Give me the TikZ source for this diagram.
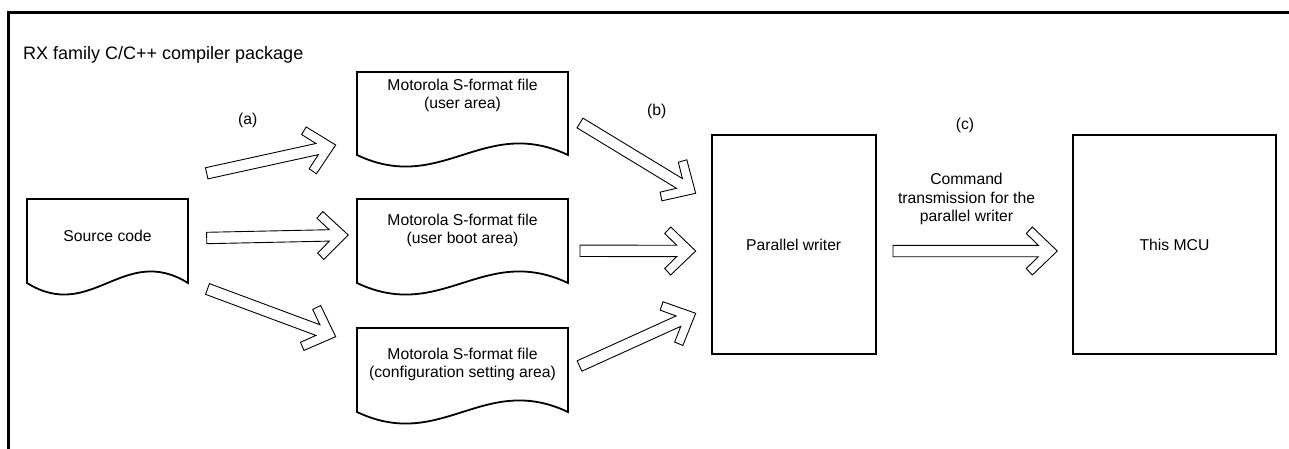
\documentclass[tikz,border=0pt]{standalone}
\usepackage{fontspec}
\setmainfont{Liberation Sans}
\usetikzlibrary{calc}
\tikzset{
  frameline/.style={line width=3pt, line join=miter},
  boxline/.style={line width=1.8pt, line join=miter},
  arrowline/.style={line width=0.9pt, line join=miter, fill=white},
  lbl/.style={font=\fontsize{15.7}{18.8}\selectfont, inner sep=0pt, align=center},
  titlelbl/.style={font=\fontsize{18}{21}\selectfont, inner sep=0pt},
  plainbox/.style={boxline, draw, inner sep=0pt, font=\fontsize{15.7}{18.8}\selectfont},
}
\newcommand\blockarrow[2]{%
  \path let \p1=(#1), \p2=(#2) in \pgfextra{%
    \pgfmathsetmacro\baangtmp{atan2(\y2-\y1,\x2-\x1)}%
    \pgfmathsetmacro\balentmp{veclen(\x2-\x1,\y2-\y1)}%
    \xdef\baang{\baangtmp}\xdef\balen{\balentmp}};
  \draw[arrowline, shift={(#1)}, rotate=\baang]
    (0,5.7) -- ({\balen-19},5.7) -- ({\balen-31},17.5) -- ({\balen-25},24)
    -- (\balen,0) -- ({\balen-25},-24) -- ({\balen-31},-17.5)
    -- ({\balen-19},-5.7) -- (0,-5.7) -- cycle;}
\newcommand\docpath[4]{% x1 x2 top bottom
  \draw[boxline] (#1,#3) -- (#2,#3) -- (#2,#4)
    .. controls ({#1+0.6*(#2-#1)},{#4-40}) and ({#1+0.4*(#2-#1)},{#4+40}) .. (#1,#4) -- cycle;}
\begin{document}
\begin{tikzpicture}[x=1pt,y=-1pt]
\useasboundingbox (0,0) rectangle (1289,449);
% outer frame
\draw[frameline] (8.7,449) -- (8.7,12.5) -- (1289,12.5);
\node[titlelbl, anchor=base west] (title) at (23,59.6) {RX family C/C++ compiler package};

% documents
\docpath{27}{188}{199}{283}
\node[lbl] (src) at (107.5,236) {Source code};
\docpath{357}{568}{72}{155}
\node[lbl] (doc1) at (462.5,95.5) {Motorola S-format file\\(user area)};
\docpath{357}{568}{199}{283}
\node[lbl] (doc2) at (462.5,230.5) {Motorola S-format file\\(user boot area)};
\docpath{357}{568}{328}{412}
\node[lbl] (doc3) at (462.5,364.5) {Motorola S-format file\\(configuration setting area)};

% boxes
\node[plainbox, minimum width=164, minimum height=219] (pw) at (793.7,244.5) {Parallel writer};
\node[plainbox, minimum width=203, minimum height=219] (mcu) at (1174.5,244.5) {This MCU};

% labels
\node[lbl] (la) at (247.7,120) {(a)};
\node[lbl] (lb) at (656.7,111.7) {(b)};
\node[lbl] (lc) at (965,125) {(c)};
\node[lbl] (cmd) at (966.5,199) {Command\\transmission for the\\parallel writer};

% arrow end points
\coordinate (a1t) at (206.7,173.3); \coordinate (a1h) at (335.7,145);
\coordinate (a2t) at (206.7,238);   \coordinate (a2h) at (348.3,235);
\coordinate (a3t) at (207.5,289);   \coordinate (a3h) at (335.7,336.7);
\coordinate (b1t) at (580,123);     \coordinate (b1h) at (695.7,193.3);
\coordinate (b2t) at (580,250.8);   \coordinate (b2h) at (695.7,251);
\coordinate (b3t) at (579.5,366);   \coordinate (b3h) at (695.7,313.3);
\coordinate (ct) at (893,251);      \coordinate (ch) at (1057.3,251);

\blockarrow{a1t}{a1h}
\blockarrow{a2t}{a2h}
\blockarrow{a3t}{a3h}
\blockarrow{b1t}{b1h}
\blockarrow{b2t}{b2h}
\blockarrow{b3t}{b3h}
\blockarrow{ct}{ch}
\end{tikzpicture}
\end{document}
